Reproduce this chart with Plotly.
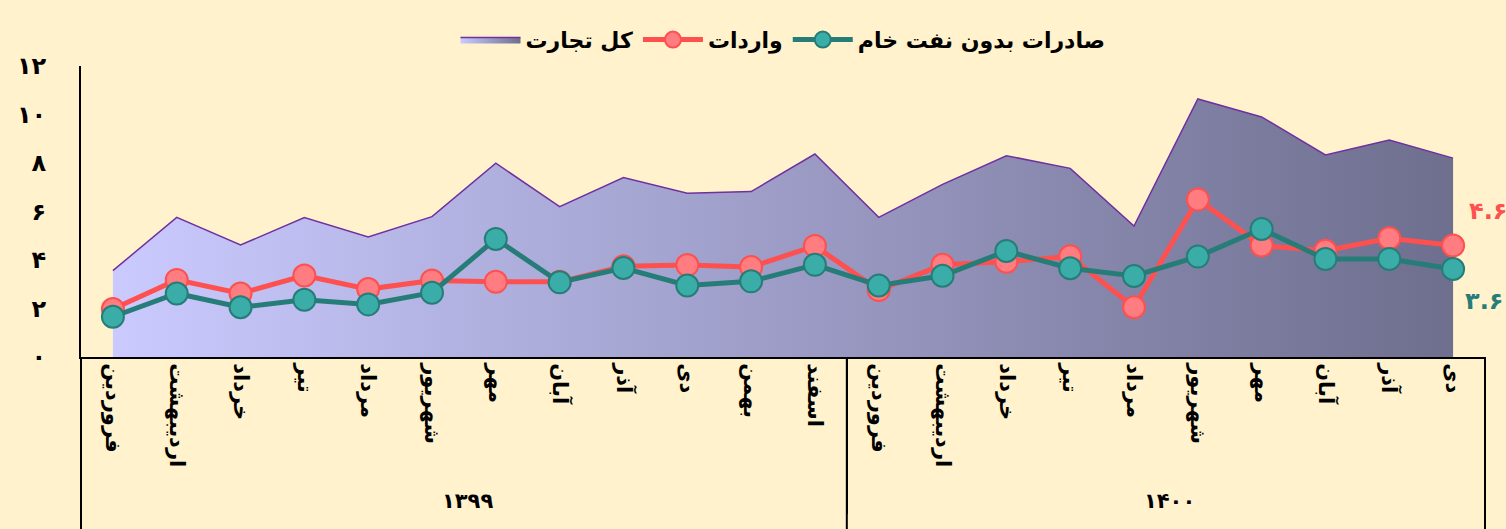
import plotly.graph_objects as go

years = ["۱۳۹۹"] * 12 + ["۱۴۰۰"] * 10
months = ["فروردین", "اردیبهشت", "خرداد", "تیر", "مرداد", "شهریور", "مهر", "آبان", "آذر", "دی", "بهمن", "اسفند",
          "فروردین", "اردیبهشت", "خرداد", "تیر", "مرداد", "شهریور", "مهر", "آبان", "آذر", "دی"]

total_trade = [3.56, 5.76, 4.62, 5.75, 4.95, 5.79, 7.99, 6.2, 7.4, 6.75, 6.82, 8.37,
               5.76, 7.12, 8.3, 7.78, 5.4, 10.64, 9.9, 8.33, 8.95, 8.2]
imports = [1.98, 3.18, 2.62, 3.36, 2.8, 3.15, 3.1, 3.1, 3.74, 3.79, 3.71, 4.58,
           2.76, 3.8, 3.93, 4.15, 2.05, 6.5, 4.6, 4.38, 4.9, 4.6]
exports = [1.66, 2.62, 2.05, 2.36, 2.17, 2.65, 4.87, 3.08, 3.67, 2.95, 3.12, 3.8,
           2.95, 3.35, 4.37, 3.66, 3.34, 4.14, 5.28, 4.04, 4.04, 3.63]

last_import_label = "۴.۶"
last_export_label = "۳.۶"

y_tickvals = [0, 2, 4, 6, 8, 10, 12]
y_ticktext = ["۰", "۲", "۴", "۶", "۸", "۱۰", "۱۲"]

FONT = "DejaVu Sans"
BG = "#FFF2CC"
RED_LINE = "#FF5050"
RED_FILL = "#FF7C80"
TEAL_LINE = "#267D78"
TEAL_FILL = "#3AADA8"

x = [years, months]
n = len(months)
n_first_year = years.count(years[0])

fig = go.Figure()
fig.add_trace(go.Scatter(
    x=x, y=total_trade, name="کل تجارت", mode="lines",
    line=dict(color="#7030A0", width=1.5),
    fill="tozeroy",
    fillgradient=dict(type="horizontal",
                      colorscale=[[0, "#CACAFF"], [1, "#6E6E8E"]]),
))
fig.add_trace(go.Scatter(
    x=x, y=imports, name="واردات", mode="lines+markers",
    line=dict(color=RED_LINE, width=5),
    marker=dict(size=22, color=RED_FILL, line=dict(color=RED_LINE, width=2)),
))
fig.add_trace(go.Scatter(
    x=x, y=exports, name="صادرات بدون نفت خام", mode="lines+markers",
    line=dict(color=TEAL_LINE, width=5),
    marker=dict(size=22, color=TEAL_FILL, line=dict(color=TEAL_LINE, width=2)),
))

fig.add_annotation(x=n - 1, y=imports[-1], xref="x", yref="y", text=last_import_label,
                   showarrow=False, xanchor="left", yanchor="middle", xshift=14, yshift=34,
                   font=dict(family=FONT, size=24, color=RED_LINE, weight="bold"))
fig.add_annotation(x=n - 1, y=exports[-1], xref="x", yref="y", text=last_export_label,
                   showarrow=False, xanchor="left", yanchor="middle", xshift=10, yshift=-32,
                   font=dict(family=FONT, size=24, color=TEAL_LINE, weight="bold"))

# group divider lines running down to the bottom edge of the chart
for xf in [0, n_first_year / n, 1]:
    fig.add_shape(type="line", xref="paper", yref="paper", x0=xf, x1=xf, y0=0, y1=-0.6,
                  line=dict(color="black", width=2), layer="above")

fig.update_layout(
    width=1506, height=529,
    paper_bgcolor=BG, plot_bgcolor=BG,
    margin=dict(l=81, r=21, t=66, b=172, autoexpand=False),
    font=dict(family=FONT, color="black"),
    showlegend=True,
    legend=dict(orientation="h", x=0.5, xanchor="center", y=1.09, yanchor="middle",
                font=dict(family=FONT, size=22, weight="bold"), bgcolor="rgba(0,0,0,0)",
                itemwidth=60, traceorder="normal"),
    xaxis=dict(
        type="multicategory", range=[-0.5, n - 0.5],
        showline=True, linecolor="black", linewidth=2,
        showgrid=False, zeroline=False, ticks="", tickangle=90,
        tickfont=dict(family=FONT, size=21, weight="bold"),
        showdividers=True, dividercolor="black", dividerwidth=2,
        automargin=False,
    ),
    yaxis=dict(
        range=[0, 12], tickvals=y_tickvals, ticktext=y_ticktext,
        showline=True, linecolor="black", linewidth=2, showgrid=False, zeroline=False,
        ticks="", ticklabelstandoff=28,
        tickfont=dict(family=FONT, size=24, weight="bold"),
        automargin=False,
    ),
)

fig.write_html("out.html", config={"displayModeBar": False},
               post_script="document.body.style.margin='0';document.body.style.background='" + BG + "';")
